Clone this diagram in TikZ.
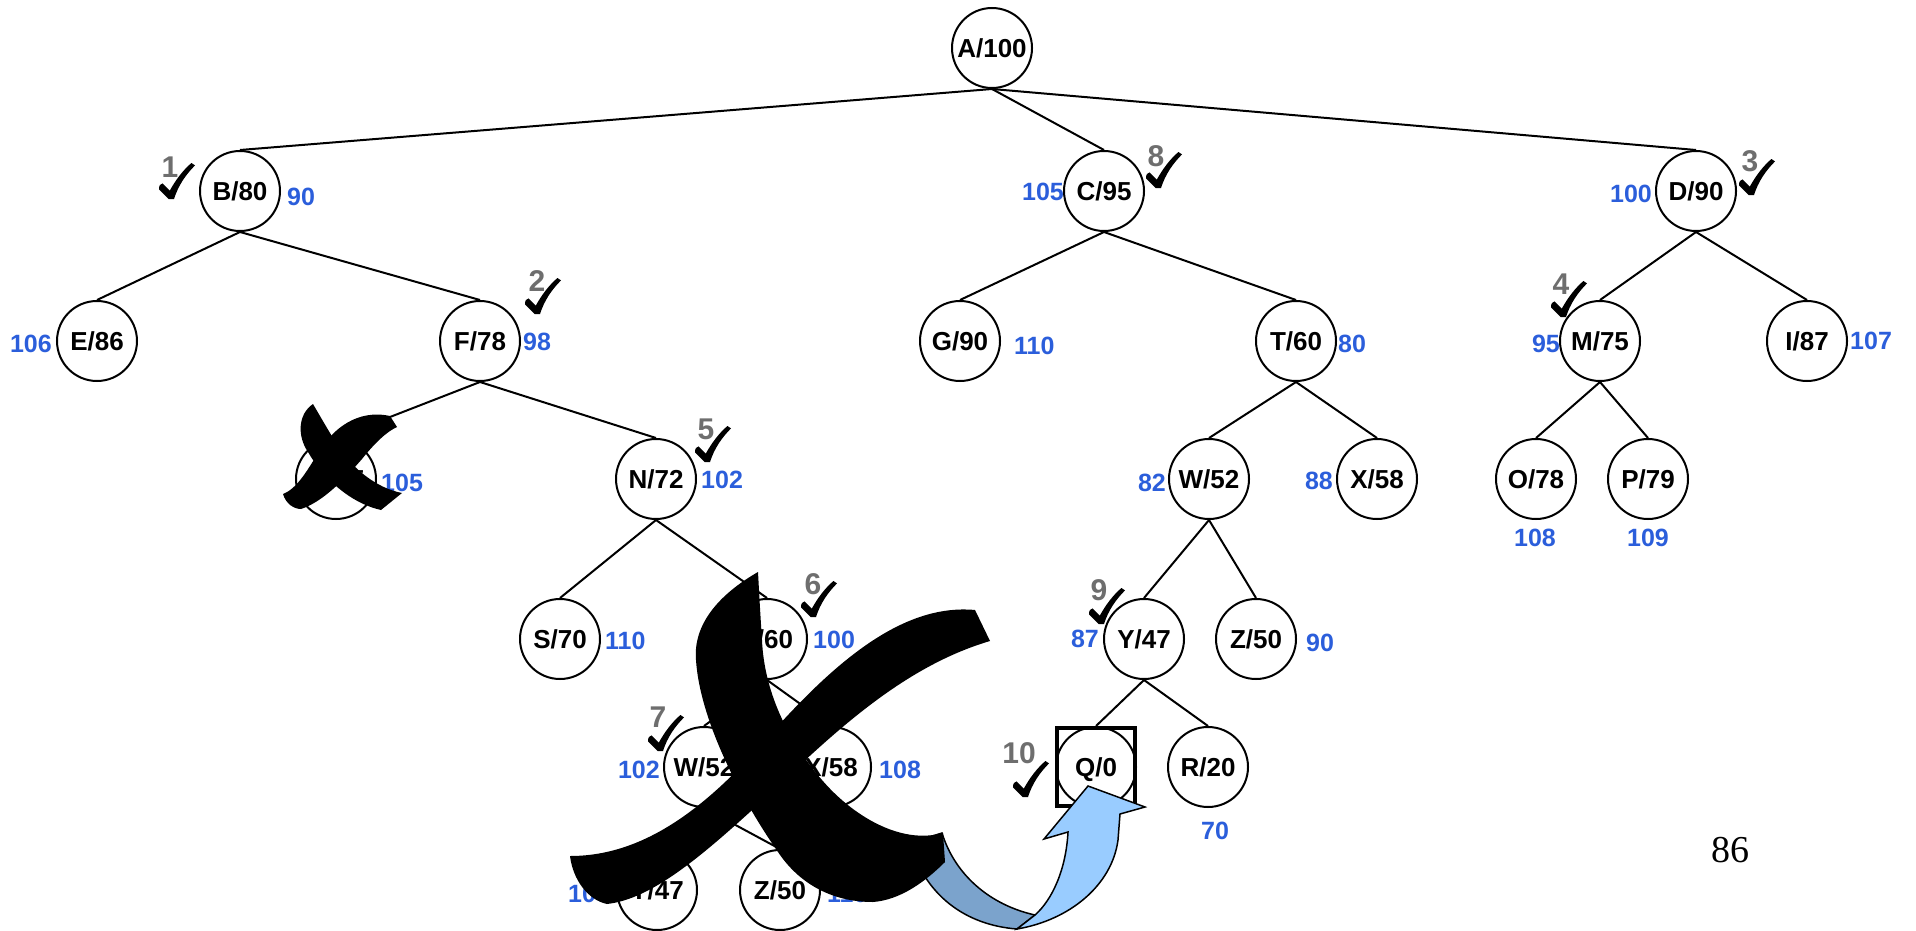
\documentclass[tikz,border=0pt]{standalone}
\usepackage{fontspec}
\setmainfont{Liberation Sans}
\newfontfamily\pagefont{Liberation Serif}
\definecolor{costblue}{RGB}{43,94,219}
\definecolor{stepgray}{RGB}{110,110,110}
\definecolor{arrowlight}{RGB}{153,204,255}
\definecolor{arrowdark}{RGB}{123,163,204}
\tikzset{
  st/.style={circle,draw,line width=2pt,minimum size=80pt,inner sep=0pt,fill=white,
    font=\fontsize{26}{28}\selectfont\bfseries,text height=18.6pt,text depth=0pt},
  edge/.style={line width=2pt},
  cost/.style={inner sep=0pt,text=costblue,font=\fontsize{25}{28}\selectfont\bfseries,
    text height=18pt,text depth=0pt},
  stepno/.style={inner sep=0pt,text=stepgray,font=\fontsize{30}{32}\selectfont\bfseries,
    text height=21.5pt,text depth=0pt},
  chk/.pic={\fill[scale=1.2] (8,30) -- (0,22) .. controls (0,19) and (1,17) .. (3,17) -- (9,23)
     .. controls (14,14) and (20,6) .. (27,0) -- (30,2)
     .. controls (22,10) and (16,19) .. (12.5,30) -- cycle;},
  brush/.style={fill=black}
}
\begin{document}
\begin{tikzpicture}[x=1pt,y=-1pt]
\useasboundingbox (0,0) rectangle (1916,931);
% nodes
\node[st] (A) at (992,48) {A/100};
\node[st] (B) at (240,191) {B/80};
\node[st] (C) at (1104,191) {C/95};
\node[st] (D) at (1696,191) {D/90};
\node[st] (E) at (97,341) {E/86};
\node[st] (F) at (480,341) {F/78};
\node[st] (G) at (960,341) {G/90};
\node[st] (T) at (1296,341) {T/60};
\node[st] (M) at (1600,341) {M/75};
\node[st] (I) at (1807,341) {I/87};
\node[st] (Ma) at (336,479) {M/75};
\node[st] (N) at (656,479) {N/72};
\node[st] (W) at (1209,479) {W/52};
\node[st] (X) at (1377,479) {X/58};
\node[st] (O) at (1536,479) {O/78};
\node[st] (P) at (1648,479) {P/79};
\node[st] (S) at (560,639) {S/70};
\node[st] (Ta) at (767,639) {T/60};
\node[st] (Y) at (1144,639) {Y/47};
\node[st] (Z) at (1256,639) {Z/50};
\node[st] (Wa) at (704,767) {W/52};
\node[st] (Xa) at (831,767) {X/58};
\node[st] (Q) at (1096,767) {Q/0};
\node[st] (R) at (1208,767) {R/20};
\node[st] (Ya) at (657,890) {Y/47};
\node[st] (Za) at (780,890) {Z/50};
\node[draw,line width=4pt,minimum size=78pt,inner sep=0pt] (qbox) at (Q) {};
% edges
\foreach \p/\c in {A/B,A/C,A/D,B/E,B/F,F/Ma,F/N,N/S,N/Ta,Ta/Wa,Ta/Xa,Wa/Ya,Wa/Za,
  C/G,C/T,T/W,T/X,W/Y,W/Z,Y/Q,Y/R,D/M,D/I,M/O,M/P}
  \draw[edge] (\p.south) -- (\c.north);
% cost labels
\node[cost,anchor=west] (cB) at (287,196) {90};
\node[cost,anchor=east] (cE) at (52,343) {106};
\node[cost,anchor=west] (cF) at (523,341) {98};
\node[cost,anchor=west] (cMa) at (381,482) {105};
\node[cost,anchor=west] (cN) at (701,479) {102};
\node[cost,anchor=east] (cC) at (1064,191) {105};
\node[cost,anchor=west] (cG) at (1014,345) {110};
\node[cost,anchor=west] (cT) at (1338,343) {80};
\node[cost,anchor=east] (cW) at (1166,482) {82};
\node[cost,anchor=east] (cX) at (1333,480) {88};
\node[cost,anchor=east] (cD) at (1652,193) {100};
\node[cost,anchor=east] (cM) at (1560,343) {95};
\node[cost,anchor=west] (cI) at (1850,340) {107};
\node[cost] (cO) at (1535,537) {108};
\node[cost] (cP) at (1648,537) {109};
\node[cost,anchor=west] (cS) at (605,640) {110};
\node[cost,anchor=west] (cTa) at (813,639) {100};
\node[cost,anchor=east] (cWa) at (660,769) {102};
\node[cost,anchor=west] (cXa) at (879,769) {108};
\node[cost,anchor=west] (cYa) at (568,893) {107};
\node[cost,anchor=west] (cZa) at (827,893) {110};
\node[cost,anchor=east] (cY) at (1099,638) {87};
\node[cost,anchor=west] (cZ) at (1306,642) {90};
\node[cost] (cR) at (1215,830) {70};
% step numbers and ticks
\node[stepno] (s1) at (170,167) {1};
\node[stepno] (s2) at (537,281) {2};
\node[stepno] (s3) at (1750,161) {3};
\node[stepno] (s4) at (1561,284) {4};
\node[stepno] (s5) at (706,429) {5};
\node[stepno] (s6) at (813,584) {6};
\node[stepno] (s7) at (658,717) {7};
\node[stepno] (s8) at (1156,156) {8};
\node[stepno] (s9) at (1099,590) {9};
\node[stepno] (s10) at (1019,753) {10};
\pic at (159,163) {chk};
\pic at (525,278) {chk};
\pic at (1739,159) {chk};
\pic at (1551,281) {chk};
\pic at (695,426) {chk};
\pic at (801,581) {chk};
\pic at (648,715) {chk};
\pic at (1146,152) {chk};
\pic at (1089,588) {chk};
\pic at (1013,761) {chk};
% curved blue arrow
\draw[line width=1.5pt,fill=arrowdark] (910,843) .. controls (925,895) and (965,925) .. (1017,929)
  -- (1035,915) .. controls (990,905) and (955,875) .. (942,833) -- cycle;
\draw[line width=1.5pt,fill=arrowlight,line join=miter] (1017,929) .. controls (1070,920) and (1112,885) .. (1118,840)
  -- (1120,814) -- (1145,807) -- (1088,786) -- (1044,839) -- (1068,832)
  .. controls (1066,870) and (1052,900) .. (1035,915) -- cycle;
% big cross
\fill[brush] (570,856) .. controls (640,856) and (700,813) .. (760,746)
  .. controls (830,666) and (900,603) .. (975,610) -- (990,641)
  .. controls (902,667) and (832,734) .. (762,801)
  .. controls (702,856) and (652,899) .. (607,904)
  .. controls (588,900) and (573,880) .. (570,856) -- cycle;
\fill[brush] (758,572) .. controls (718,595) and (693,625) .. (696,660)
  .. controls (700,722) and (743,802) .. (778,852)
  .. controls (798,882) and (830,902) .. (873,902)
  .. controls (900,900) and (925,882) .. (945,862) -- (943,833)
  .. controls (900,845) and (852,815) .. (822,780)
  .. controls (787,740) and (764,690) .. (762,640)
  .. controls (760,610) and (759,590) .. (758,572) -- cycle;
% small cross
\fill[brush] (313,404) .. controls (298,414) and (297,436) .. (308,452)
  .. controls (323,478) and (350,503) .. (381,510) -- (402,493)
  .. controls (376,488) and (352,468) .. (338,446)
  .. controls (328,430) and (320,416) .. (313,404) -- cycle;
\fill[brush] (390,416) .. controls (358,409) and (333,428) .. (318,453)
  .. controls (306,473) and (296,489) .. (283,494)
  .. controls (286,504) and (294,509) .. (301,509)
  .. controls (322,502) and (342,482) .. (362,459)
  .. controls (374,444) and (386,432) .. (397,427) -- cycle;
% page number
\node[inner sep=0pt,font=\pagefont\fontsize{38}{40}\selectfont] (pg) at (1730,850) {86};
\end{tikzpicture}
\end{document}
